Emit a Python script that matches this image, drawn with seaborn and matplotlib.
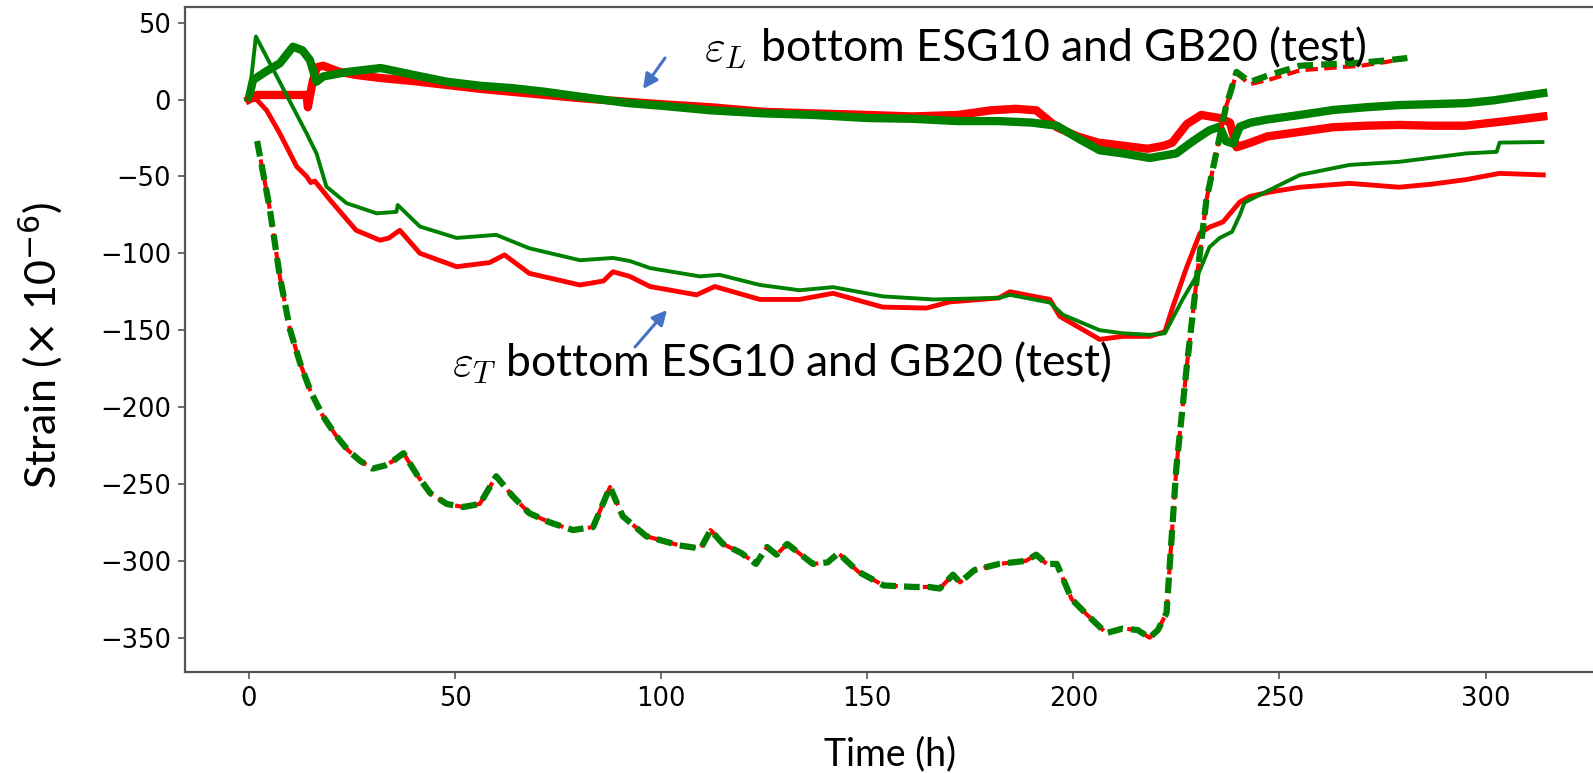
import matplotlib
matplotlib.use("Agg")
import matplotlib.pyplot as plt
import seaborn as sns
import numpy as np

# ---------------- data ----------------
# epsilon_L (top, thick noisy curves)
t_L_red = [0, 2, 8, 14, 14.3, 15.5, 16.5, 18, 22, 26, 32, 40, 48, 56, 64, 72, 80, 92, 100, 112,
           125, 137, 150, 161, 172, 180, 186, 191, 196, 201, 206, 212, 218, 222, 224, 227.5, 231,
           235.5, 238, 238.7, 239.6, 243, 247, 255, 263, 271, 279, 287, 295, 305, 314]
v_L_red = [0, 3, 3, 3, -5, 12, 21, 22, 18, 16, 14, 12, 9.5, 7, 5, 3, 1, -1.5, -3, -5,
           -8, -9, -10, -11, -10, -7, -6, -7, -18, -24, -28, -30, -32, -30, -28, -16, -10,
           -12, -15, -22, -31, -28, -24, -21, -18, -17, -16.5, -17, -17, -14, -11]

t_L_green = [0, 1, 4, 7.5, 10.7, 13, 14.8, 16.4, 18, 24, 32, 40, 48, 56, 64, 72, 80, 92, 100, 112,
             125, 137, 150, 161, 172, 182, 190, 196, 201, 206.4, 212, 218.5, 225, 228, 230.7, 233,
             235.5, 237, 238.7, 240.4, 243, 247, 255, 263, 271, 279, 287, 295.4, 302, 307.5, 314]
v_L_green = [1, 12.7, 18, 23.6, 34.4, 32, 25.7, 11.6, 15, 18, 20.5, 16, 11.6, 9, 7.4, 5, 2, -2.3, -4, -7,
             -9, -10, -12, -12.5, -14, -14, -15, -17, -25, -33, -35, -38, -35, -29, -24, -20,
             -17.6, -27, -28.6, -17.6, -15, -13, -10, -6.8, -5, -3.6, -3, -2.3, -0.5, 1.7, 4.2]

# epsilon_T (middle curves)
t_T_red = [0, 1.9, 4.3, 7.5, 11.6, 14, 15, 16, 19.6, 26, 31.8, 34, 36.6, 41.5, 50.4, 58.4, 62, 68,
           80.3, 86, 88.3, 92.4, 97.3, 108.6, 113, 124, 133.6, 141.7, 153.8, 164.4, 170, 182,
           184.6, 194.3, 196.7, 206.4, 212, 218.5, 222.2, 224.1, 227.5, 230.7, 233, 236.3, 238.7,
           240.4, 242.8, 248, 255, 267, 279, 287, 295.4, 303.4, 314]
v_T_red = [0, 0, -7, -22, -43.6, -50, -54, -53, -65, -85, -91.5, -90, -85, -100, -108.7, -106, -101, -113,
           -120.6, -118, -112, -115, -121.6, -127, -121.6, -130, -130, -126, -135, -135.6, -131.6, -129,
           -125, -130, -141, -156, -154, -154, -151, -135, -109, -87, -83, -79.6, -72,
           -66.6, -63, -60, -57, -54.5, -57, -55, -52, -48, -49]

t_T_green = [0, 1.7, 14, 16.4, 18.8, 23.7, 31, 35.8, 36.1, 41.5, 50.4, 60, 68, 80.3, 88.3, 92.4, 97.3,
             109.4, 114.2, 124, 133.6, 141.7, 153.8, 166, 182, 184.6, 194.3, 197.5, 206.4, 212, 218.5,
             222.2, 226.5, 230.7, 233, 235.5, 238.5, 240.4, 241.5, 245.2, 255, 267, 279, 295.4, 302.7,
             303.4, 313.8]
v_T_green = [0, 41, -22, -35, -56.6, -67.4, -74, -73, -68.6, -82.6, -90, -88, -96.7, -104.5, -103, -105, -109.6,
             -115, -114, -120.6, -124, -122, -128, -130, -129, -127, -132, -140, -150, -152, -153,
             -152, -130, -111, -96, -90, -86, -75, -67, -62, -49, -42.5, -40.5, -35, -34,
             -28, -27.6]

# dashed pair (bottom curves)
t_D = [2, 5, 7.5, 10, 12.5, 15, 18, 21, 24, 27, 30, 33, 35, 37.5, 41, 44, 48, 52, 56, 60,
       64, 68, 73, 78.6, 83.5, 87.6, 90.7, 96.4, 104.5, 109.6, 112, 115, 119.5, 123, 125.7,
       128, 130.6, 136.8, 140.4, 143, 147.8, 154, 161.4, 165, 167.6, 170.8, 172.5, 176, 182, 188.5,
       191, 193.5, 196, 199.6, 203.3, 208, 212, 215.6, 218.5, 220.5, 222.6, 225, 227.5, 230, 232.3,
       234.8, 237, 239.6, 242.8, 247.6, 255, 262, 269.8, 276, 281]
v_D_green = [-27, -70, -115, -150, -172, -190, -206, -218, -228, -235, -240, -238, -235, -230, -245,
             -256, -263, -265, -263, -245, -258, -269, -275, -280, -278, -252, -271, -284, -290, -292,
             -280, -289, -295, -302, -291, -296, -289, -302, -301, -295, -307, -316, -317, -317, -318,
             -309, -314, -306, -302, -300, -296, -302, -302, -325, -335, -347, -344, -345, -350, -345,
             -334, -239, -174, -115, -65, -33, -5, 18, 11.4, 16, 22, 23, 24, 25.5, 27]
v_D_red = [-27, -70, -115, -150, -172, -190, -206, -218, -228, -235, -240, -238, -235, -230, -245,
           -256, -263, -265, -263, -245, -258, -269, -275, -280, -278, -252, -271, -284, -290, -292,
           -280, -289, -295, -302, -291, -296, -289, -302, -301, -295, -307, -316, -317, -317, -318,
           -309, -314, -306, -302, -300, -296, -302, -302, -325, -335, -347, -344, -345, -350, -345,
           -334, -239, -174, -115, -65, -33, -5, 17, 10, 13, 19, 20.5, 22, 24.5, 27]

x_ticks = [0, 50, 100, 150, 200, 250, 300]
y_ticks = [-350, -300, -250, -200, -150, -100, -50, 0, 50]

label_L = r"$\varepsilon_L$ bottom ESG10 and GB20 (test)"
label_T = r"$\varepsilon_T$ bottom ESG10 and GB20 (test)"
xlabel = "Time (h)"
ylabel = r"Strain ($\times$ 10$^{-6}$)"

# ---------------- figure ----------------
W, H = 1593, 773
fig = plt.figure(figsize=(W / 100, H / 100), dpi=100)
ax = fig.add_axes([185 / W, 1 - 671.7 / H, (1608 - 185) / W, (671.7 - 7) / H])

RED = "#ff0000"
GREEN = "#008000"

sns.lineplot(x=t_L_red, y=v_L_red, color=RED, linewidth=6, estimator=None, ax=ax)
sns.lineplot(x=t_L_green, y=v_L_green, color=GREEN, linewidth=6, estimator=None, ax=ax)
sns.lineplot(x=t_T_red, y=v_T_red, color=RED, linewidth=3.5, estimator=None, ax=ax)
sns.lineplot(x=t_T_green, y=v_T_green, color=GREEN, linewidth=2.8, estimator=None, ax=ax)
sns.lineplot(x=t_D, y=v_D_red, color=RED, linewidth=3, estimator=None, ax=ax,
             linestyle=(0, (3, 1.5)))
sns.lineplot(x=t_D, y=v_D_green, color=GREEN, linewidth=4.5, estimator=None, ax=ax,
             linestyle=(0, (2.5, 1.3)))

ax.set_xlim(-15.5, 329.7)
ax.set_ylim(-372.1, 60.2)
ax.set_xticks(x_ticks)
ax.set_yticks(y_ticks)
ax.tick_params(labelsize=18.5, length=5, width=1.2, color="#555555", pad=5)
for s in ax.spines.values():
    s.set_color("#555555")
    s.set_linewidth(1.6)
ax.set_xlabel("")
ax.set_ylabel("")

fig.text(890 / W, 1 - 754 / H, xlabel, family="Lato", fontsize=27, ha="center", va="center")
fig.text(41 / W, 1 - 345 / H, ylabel, family="Lato", fontsize=31, ha="center", va="center",
         rotation=90, math_fontfamily="dejavusans")

fig.text(704 / W, 1 - 61 / H, label_L, family="Lato", fontsize=32, ha="left", va="baseline",
         math_fontfamily="cm")
fig.text(452 / W, 1 - 376 / H, label_T, family="Lato", fontsize=32, ha="left", va="baseline",
         math_fontfamily="cm")

arrow_kw = dict(arrowstyle="-|>", color="#4472C4", lw=2.2, mutation_scale=22, shrinkA=0, shrinkB=0)
ax.annotate("", xy=(643, H - 89), xytext=(665, H - 58), xycoords="figure pixels",
            textcoords="figure pixels", arrowprops=arrow_kw)
ax.annotate("", xy=(667, H - 310), xytext=(635, H - 347), xycoords="figure pixels",
            textcoords="figure pixels", arrowprops=arrow_kw)

fig.savefig("out.png", dpi=100)
